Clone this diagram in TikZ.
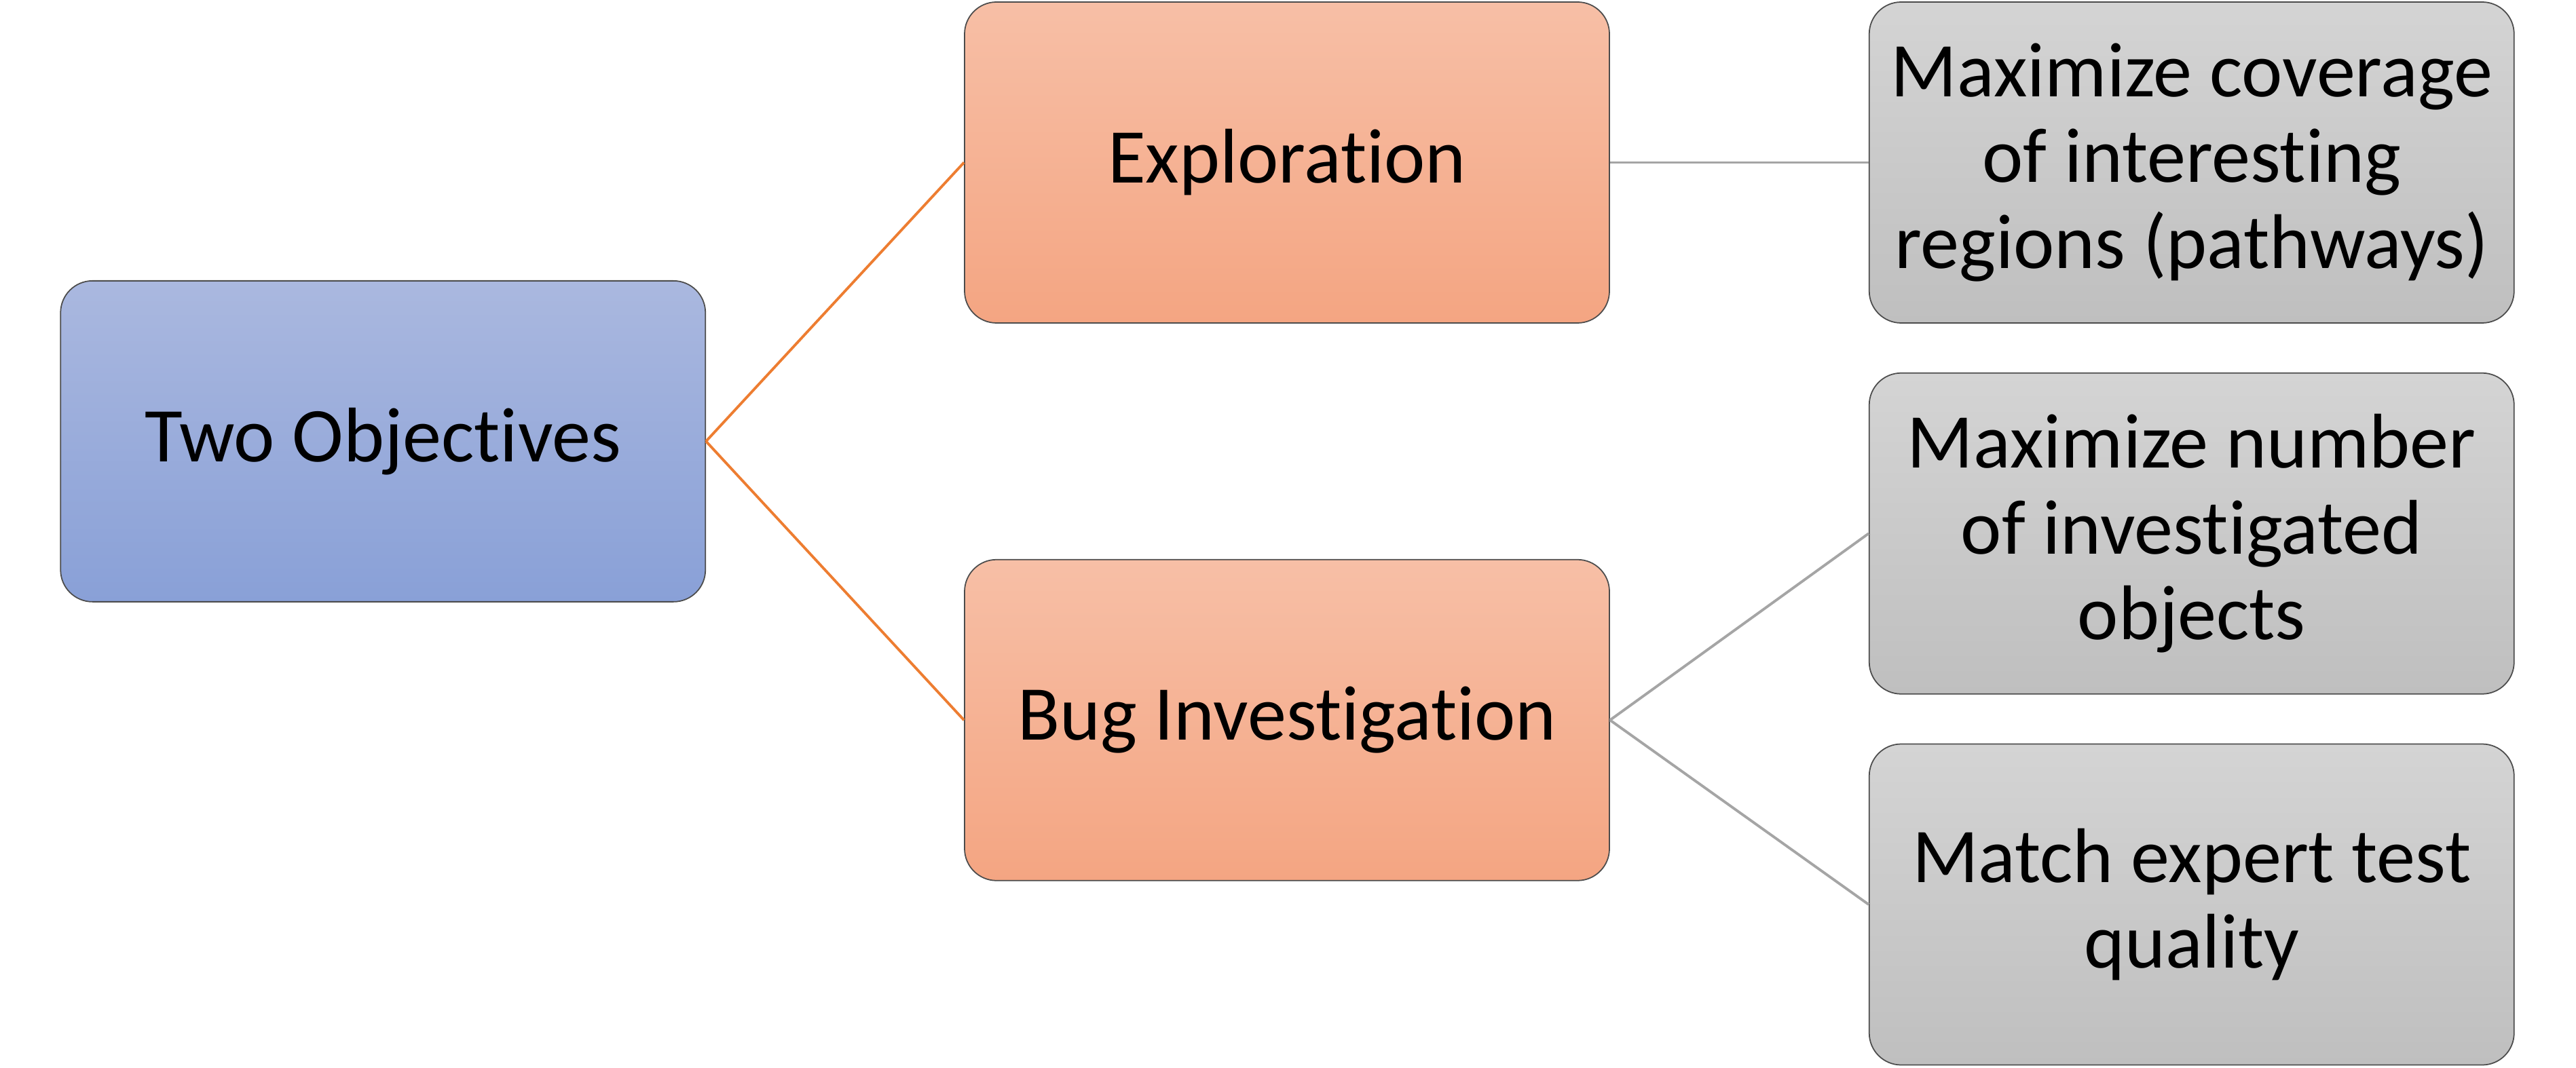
\documentclass[tikz,border=0pt]{standalone}
\usepackage{fontspec}
\setmainfont{Carlito}[RawFeature={-liga;-clig;-calt;-dlig}]
\usetikzlibrary{positioning, calc}
\definecolor{rootTop}{RGB}{170,184,223}
\definecolor{rootBot}{RGB}{137,160,215}
\definecolor{brTop}{RGB}{247,191,166}
\definecolor{brBot}{RGB}{244,165,130}
\definecolor{leafTop}{RGB}{212,212,212}
\definecolor{leafBot}{RGB}{191,191,191}
\definecolor{orangeline}{RGB}{237,125,49}
\definecolor{grayline}{RGB}{165,165,165}

\begin{document}
\begin{tikzpicture}[
  node distance=0.72cm and 3.8cm,
  box/.style={draw=black!70, line width=0.5pt, rounded corners=0.47cm,
              minimum width=9.5cm, minimum height=4.73cm, align=center,
              font=\fontsize{32.5}{36}\selectfont},
  root/.style={box, top color=rootTop, bottom color=rootBot},
  branch/.style={box, top color=brTop, bottom color=brBot},
  leaf/.style={box, top color=leafTop, bottom color=leafBot},
  orangelink/.style={orangeline, line width=1.1pt},
  graylink/.style={grayline, line width=1.1pt}
]
  \useasboundingbox (0,0) rectangle (37.95,-15.74);

  \node[branch] (expl) at (18.96,-2.395) {Exploration};
  \node[branch, below=3.47cm of expl] (bug) {Bug Investigation};
  \coordinate (mid) at ($(expl.west)!0.5!(bug.west)$);
  \node[root, left=of mid] (two) {Two Objectives};

  \node[leaf, right=3.81cm of expl] (cov) {Maximize coverage\\of interesting\\regions (pathways)};
  \node[leaf, below=of cov] (num) {Maximize number\\of investigated\\objects};
  \node[leaf, below=of num] (match) {Match expert test\\quality};

  \draw[orangelink] (two.east) -- (expl.west);
  \draw[orangelink] (two.east) -- (bug.west);
  \draw[graylink] (expl.east) -- (cov.west);
  \draw[graylink] (bug.east) -- (num.west);
  \draw[graylink] (bug.east) -- (match.west);
\end{tikzpicture}
\end{document}
